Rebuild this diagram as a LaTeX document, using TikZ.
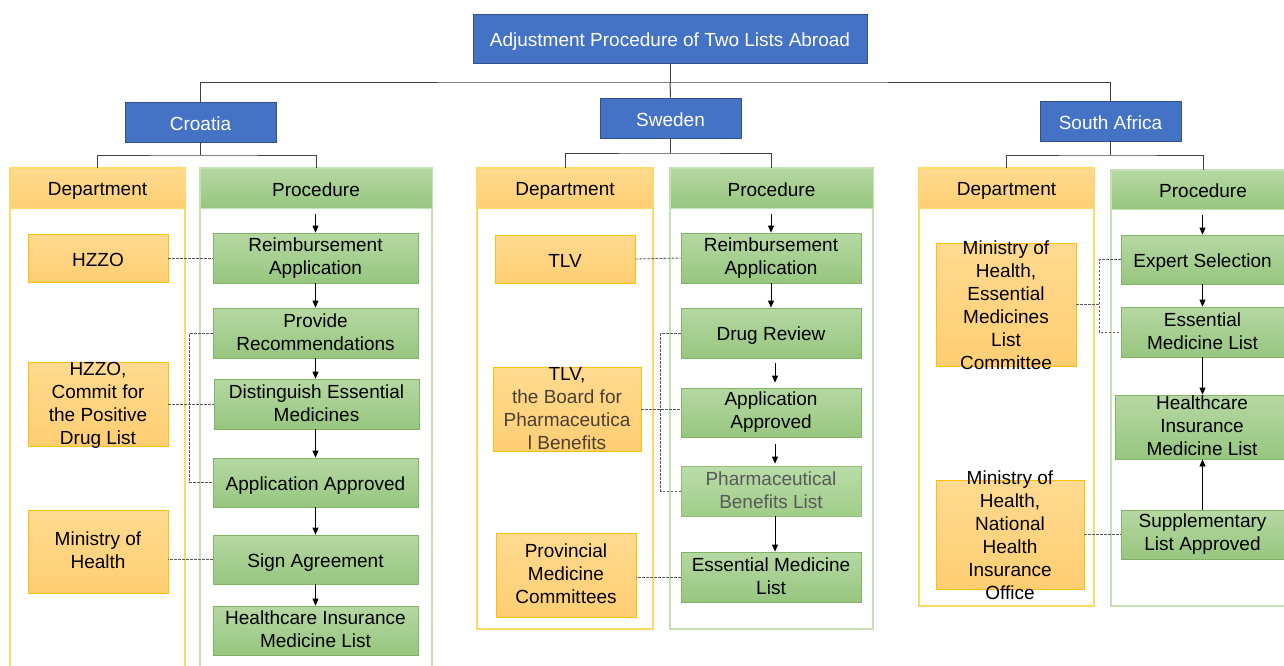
\documentclass[tikz,border=0pt]{standalone}
\usepackage{fontspec}
\setmainfont{Liberation Sans}
\usetikzlibrary{arrows.meta,calc}
\definecolor{blueF}{HTML}{4472C4}
\definecolor{blueB}{HTML}{2F528F}
\definecolor{orB}{HTML}{FFC000}
\definecolor{orT}{HTML}{FFDA90}
\definecolor{orBt}{HTML}{FFCE72}
\definecolor{grB}{HTML}{82B366}
\definecolor{grT}{HTML}{B5D8A2}
\definecolor{grBt}{HTML}{97C67F}
\definecolor{grLT}{HTML}{BADCA9}
\definecolor{grLBt}{HTML}{A0CD89}
\definecolor{orF}{HTML}{FFD966}
\definecolor{grF}{HTML}{C5E0B4}
\definecolor{treeC}{HTML}{404040}
\definecolor{dashC}{HTML}{595959}
\definecolor{grayT}{HTML}{595959}
\definecolor{brownT}{HTML}{4A4036}
\newcommand\mystrutA{\rule{0pt}{19pt}}
\newcommand\mystrutB{\rule[-2.6pt]{0pt}{2.6pt}}
\tikzset{
  strutted/.style={execute at begin node=\mystrutA, execute at end node=\mystrutB},
  bluebox/.style={draw=blueB, line width=0.8pt, fill=blueF, text=white, inner sep=0pt, align=center, strutted},
  obox/.style={draw=orB, line width=0.8pt, top color=orT, bottom color=orBt, inner sep=0pt, align=center, strutted},
  gbox/.style={draw=grB, line width=0.8pt, top color=grT, bottom color=grBt, inner sep=0pt, align=center, strutted},
  glbox/.style={draw=grB!85, line width=0.8pt, top color=grLT, bottom color=grLBt, inner sep=0pt, align=center, text=grayT, strutted},
  dhead/.style={draw=orF, line width=1pt, top color=orT, bottom color=orBt, inner sep=0pt, align=center, strutted},
  phead/.style={draw=grF, line width=1pt, top color=grT, bottom color=grBt, inner sep=0pt, align=center, strutted},
  deptframe/.style={draw=orF, line width=1.3pt},
  procframe/.style={draw=grF, line width=1.3pt},
  treeline/.style={draw=treeC, line width=1pt},
  flowarrow/.style={-{Triangle[length=7pt,width=6pt]}, line width=0.8pt, draw=black},
  dashlink/.style={draw=dashC, line width=0.9pt, dash pattern=on 2.5pt off 1.5pt},
  txt/.style={inner sep=0pt, align=center, strutted}
}
\begin{document}
\begin{tikzpicture}[x=1pt,y=-1pt,font=\fontsize{19}{23}\selectfont]
\useasboundingbox (0,0) rectangle (1284,665);
\clip (0,0) rectangle (1284,665);
% column frames
\draw[deptframe] (10,168) rectangle (185,675);
\draw[procframe] (200,168) rectangle (432,675);
\draw[deptframe] (477,168) rectangle (653,629);
\draw[procframe] (670,168) rectangle (873,629);
\draw[deptframe] (919,168) rectangle (1094,606);
\draw[procframe] (1111,170) rectangle (1295,606);

% top level
\node[bluebox, minimum width=394, minimum height=49] (title) at (670,38.5) {Adjustment Procedure of Two Lists Abroad};
\node[bluebox, minimum width=151, minimum height=40] (cro) at (200.5,122) {Croatia};
\node[bluebox, minimum width=141, minimum height=40] (swe) at (670.5,118) {Sweden};
\node[bluebox, minimum width=141, minimum height=40] (sa) at (1110.5,121) {South Africa};

% headers
\node[dhead, minimum width=175, minimum height=40] (cdh) at (97.5,188) {Department};
\node[phead, minimum width=232, minimum height=40] (cph) at (316,188) {Procedure};
\node[dhead, minimum width=176, minimum height=40] (sdh) at (565,188) {Department};
\node[phead, minimum width=203, minimum height=40] (sph) at (771.5,188) {Procedure};
\node[dhead, minimum width=175, minimum height=40] (adh) at (1006.5,188) {Department};
\node[phead, minimum width=184, minimum height=39] (aph) at (1203,189.5) {Procedure};

% tree lines
\coordinate (hb) at (670,82);
\coordinate (cm) at (200.5,155);
\coordinate (sm) at (670.5,153);
\coordinate (am) at (1110.5,155);
\draw[treeline] (title.south) -- (hb);
\draw[treeline] (cro.north) |- (hb) -| (sa.north);
\draw[treeline] (hb) -- (swe.north);
\draw[treeline] (cro.south) -- (cm);
\draw[treeline] (cdh.north) |- (cm) -| (cph.north);
\draw[treeline] (swe.south) -- (sm);
\draw[treeline] (sdh.north) |- (sm) -| (sph.north);
\draw[treeline] (sa.south) -- (am);
\draw[treeline] (adh.north) |- (am) -| (aph.north);

% Croatia
\node[obox, minimum width=140, minimum height=48] (cd1) at (98,258) {HZZO};
\node[obox, minimum width=140, minimum height=84] (cd2) at (98,404) {};
\node[txt] (cd2t) at (98,405) {HZZO,\\Commit for\\the Positive\\Drug List};
\node[obox, minimum width=140, minimum height=83] (cd3) at (98,551.5) {Ministry of\\Health};
\node[gbox, minimum width=205, minimum height=50] (cr1) at (315.5,258) {Reimbursement\\Application};
\node[gbox, minimum width=205, minimum height=50] (cr2) at (315.5,333) {Provide\\Recommendations};
\node[gbox, minimum width=205, minimum height=50] (cr3) at (316.5,404) {Distinguish Essential\\Medicines};
\node[gbox, minimum width=205, minimum height=49] (cr4) at (315.5,482.5) {Application Approved};
\node[gbox, minimum width=205, minimum height=49] (cr5) at (315.5,559.5) {Sign Agreement};
\node[gbox, minimum width=205, minimum height=49] (cr6) at (315.5,630.5) {Healthcare Insurance\\Medicine List};

\draw[flowarrow, shorten <=5pt] (cr1.north |- cph.south) -- (cr1.north);
\draw[flowarrow] (cr1.south) -- (cr2.north);
\draw[flowarrow] (cr2.south) -- (cr2.south |- cr3.north);
\draw[flowarrow] (cr3.south -| cr2.south) -- (cr4.north);
\draw[flowarrow] (cr4.south) -- (cr5.north);
\draw[flowarrow] (cr5.south) -- (cr6.north);

\draw[dashlink] (cd1.east) -- (cr1.west);
\draw[dashlink] (cd2.east) -- (cr3.west);
\draw[dashlink] (cr2.west) -- ++(-23,0) |- (cr4.west);
\draw[dashlink] (cr5.west) -- (cr5.west -| cd3.east);

% Sweden
\node[obox, minimum width=140, minimum height=48] (sd1) at (565,259) {TLV};
\node[obox, minimum width=148, minimum height=84] (sd2) at (567,409) {};
\node[txt] (sd2t) at (567,410) {TLV,\\\textcolor{brownT}{the Board for}\\\textcolor{brownT}{Pharmaceutica}\\\textcolor{brownT}{l Benefits}};
\node[obox, minimum width=140, minimum height=84] (sd3) at (566,575) {Provincial\\Medicine\\Committees};
\node[gbox, minimum width=180, minimum height=50] (sw1) at (771,258) {Reimbursement\\Application};
\node[gbox, minimum width=180, minimum height=50] (sw2) at (771,333) {Drug Review};
\node[gbox, minimum width=180, minimum height=49] (sw3) at (771,412.5) {Application\\Approved};
\node[glbox, minimum width=180, minimum height=50] (sw4) at (771,491) {Pharmaceutical\\Benefits List};
\node[gbox, minimum width=180, minimum height=50] (sw5) at (771,577) {Essential Medicine\\List};

\draw[flowarrow, shorten <=5pt] (sw1.north |- sph.south) -- (sw1.north);
\draw[flowarrow] (sw1.south) -- (sw2.north);
\draw[flowarrow, shorten <=5pt, shorten >=5pt] ([xshift=4pt]sw2.south) -- ([xshift=4pt]sw3.north);
\draw[flowarrow, shorten <=7pt, shorten >=2pt] ([xshift=4pt]sw3.south) -- ([xshift=4pt]sw4.north);
\draw[flowarrow] ([xshift=4pt]sw4.south) -- ([xshift=4pt]sw5.north);

\draw[dashlink] (sd1.east) -- (sw1.west);
\draw[dashlink] (sd2.east) -- (sd2.east -| sw3.west);
\draw[dashlink] (sw2.west) -- ++(-20,0) |- (sw4.west);
\draw[dashlink] (sw5.west) -- (sw5.west -| sd3.east);

% South Africa
\node[obox, minimum width=140, minimum height=123] (ad1) at (1006,304.5) {};
\node[txt] (ad1t) at (1006,306) {Ministry of\\Health,\\Essential\\Medicines\\List\\Committee};
\node[obox, minimum width=148, minimum height=109] (ad2) at (1010,534.5) {};
\node[txt] (ad2t) at (1010,536) {Ministry of\\Health,\\National\\Health\\Insurance\\Office};
\node[gbox, minimum width=163, minimum height=49] (sa1) at (1202.5,259.5) {Expert Selection};
\node[gbox, minimum width=163, minimum height=50] (sa2) at (1202.5,332) {Essential\\Medicine List};
\node[gbox, minimum width=174, minimum height=64] (sa3) at (1202,427) {Healthcare\\Insurance\\Medicine List};
\node[gbox, minimum width=163, minimum height=49] (sa4) at (1202.5,534.5) {Supplementary\\List Approved};

\draw[flowarrow, shorten <=5pt] (sa1.north |- aph.south) -- (sa1.north);
\draw[flowarrow] (sa1.south) -- (sa2.north);
\draw[flowarrow] (sa2.south) -- (sa2.south |- sa3.north);
\draw[flowarrow] (sa4.north) -- (sa4.north |- sa3.south);

\coordinate (ajx) at (1099,304);
\draw[dashlink] (sa1.west) -- (sa1.west -| ajx) |- (sa2.west);
\draw[dashlink] (ad1.east) -- (ad1.east -| ajx);
\draw[dashlink] (ad2.east) -- (sa4.west);
\end{tikzpicture}
\end{document}
